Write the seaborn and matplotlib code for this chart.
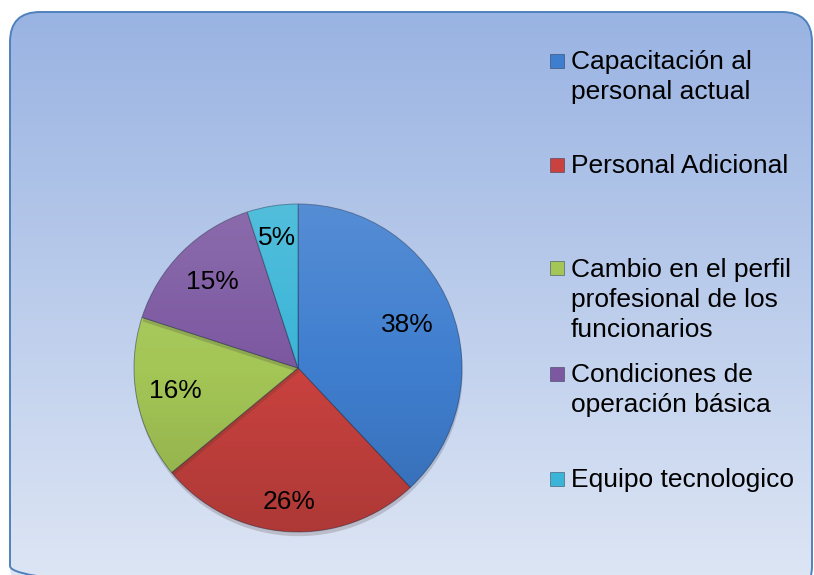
import numpy as np
import matplotlib
matplotlib.use("Agg")
import matplotlib.pyplot as plt
from matplotlib.patches import FancyBboxPatch, Rectangle, Circle
import matplotlib.patheffects as pe
import seaborn as sns

# ---- data ----
categories = ["Capacitación al\npersonal actual",
              "Personal Adicional",
              "Cambio en el perfil\nprofesional de los\nfuncionarios",
              "Condiciones de\noperación básica",
              "Equipo tecnologico"]
values = [38, 26, 16, 15, 5]
colors = ["#3f7ecf", "#c9423f", "#a4c656", "#7c58a1", "#3bb5d7"]

sns.set_theme(style="white")
plt.rcParams["font.family"] = ["Liberation Sans", "DejaVu Sans"]

W, H = 814, 575
fig = plt.figure(figsize=(W / 100, H / 100), dpi=100)
fig.patch.set_facecolor("white")

# ---- background rounded panel with vertical gradient ----
bg = fig.add_axes([0, 0, 1, 1])
bg.axis("off")
top = np.array([0x99, 0xb3, 0xe2]) / 255
bot = np.array([0xdf, 0xe7, 0xf5]) / 255
t = np.linspace(0, 1, 256)[:, None]
grad = (top[None, :] * (1 - t) + bot[None, :] * t)[:, None, :]
im = bg.imshow(grad, extent=(10, 812, 596, 12), aspect="auto", zorder=1)
bg.set_xlim(0, W)
bg.set_ylim(H, 0)
panel = FancyBboxPatch((10, 12), 802, 584, boxstyle="round,pad=0,rounding_size=30",
                       facecolor="none", edgecolor="#4f81bd", linewidth=1.4,
                       transform=bg.transData, zorder=3)
bg.add_patch(panel)
im.set_clip_path(panel)

# ---- pie ----
cx, cy, r = 298, 368, 164
ax = fig.add_axes([(cx - r) / W, (H - cy - r) / H, 2 * r / W, 2 * r / H])
wedges, texts, autotexts = ax.pie(
    values, colors=colors, startangle=90, counterclock=False,
    autopct="%1.0f%%", pctdistance=0.76,
    wedgeprops=dict(edgecolor=(0.1, 0.15, 0.25, 0.45), linewidth=0.7),
    textprops=dict(fontsize=19, color="black", zorder=10))
for w in wedges:
    w.set_path_effects([pe.SimplePatchShadow(offset=(0.5, -3), alpha=0.18), pe.Normal()])
# subtle light-to-dark shading over the pie
shade = np.zeros((256, 1, 4))
s = np.linspace(0, 1, 256)
shade[:, 0, :3] = np.where(s[:, None] < 0.5, 1.0, 0.0)
shade[:, 0, 3] = np.where(s < 0.5, 0.12 * (1 - 2 * s), 0.14 * (2 * s - 1))
sim = ax.imshow(shade, extent=(-1, 1, -1, 1), origin="upper", aspect="auto", zorder=5)
clip = Circle((0, 0), 1.0, transform=ax.transData)
sim.set_clip_path(clip)
label_r = [0.72, 0.82, 0.76, 0.74, 0.80]
ang0 = 90.0
tot = sum(values)
for txt, v, lr in zip(autotexts, values, label_r):
    mid = np.deg2rad(ang0 - 360 * v / tot / 2)
    txt.set_position((lr * np.cos(mid), lr * np.sin(mid)))
    ang0 -= 360 * v / tot
ax.set_xlim(-1, 1)
ax.set_ylim(-1, 1)
ax.set_aspect("equal")
ax.axis("off")

# ---- legend ----
leg_lines = [[69, 99], [173], [277, 307, 337], [382, 412], [487]]
fs = 19
for cat, col, ys in zip(categories, colors, leg_lines):
    for line, yb in zip(cat.split("\n"), ys):
        fig.text(571 / W, 1 - yb / H, line, fontsize=fs, color="black",
                 ha="left", va="baseline")
    yc = ys[0] - 8.5
    fig.patches.append(Rectangle((550 / W, 1 - (yc + 7) / H), 14 / W, 14 / H,
                                 transform=fig.transFigure, facecolor=col,
                                 edgecolor=(0.1, 0.15, 0.25, 0.5), linewidth=0.6,
                                 figure=fig, zorder=5))

fig.savefig("out.png", dpi=100)
